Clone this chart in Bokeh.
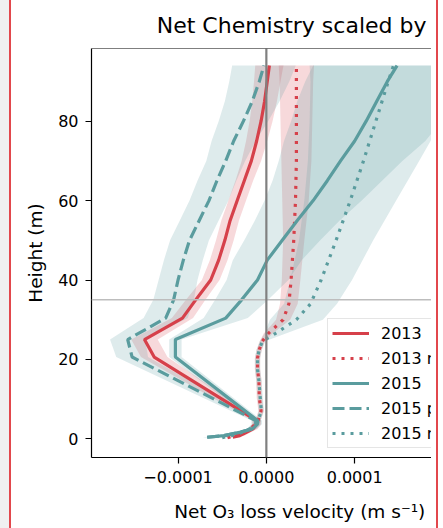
from bokeh.plotting import figure
from bokeh.layouts import row
from bokeh.models import (Range1d, FixedTicker, CustomJSTickFormatter, Span,
                          Legend, LegendItem, Spacer)
from bokeh.embed import file_html
from bokeh.resources import INLINE

# ---------------- data (m s^-1 and m) ----------------
h_model = [0.4, 0.8, 1.7, 2.5, 3.7, 4.6, 20.6, 25.0, 30.4, 35, 40, 45, 50, 55,
           60, 65, 70, 75, 80, 85, 90, 94]
v2013_model = [-3.8e-5, -3.0e-5, -2.2e-5, -1.5e-5, -1.1e-5, -1.1e-5, -1.27e-4,
               -1.38e-4, -9.5e-5, -8.0e-5, -6.3e-5, -5.4e-5, -4.7e-5, -4.1e-5,
               -3.3e-5, -2.5e-5, -1.7e-5, -1.1e-5, -6e-6, -2e-6, 1e-6, 3.4e-6]
e2013_model = [0.5e-5, 0.5e-5, 0.5e-5, 0.5e-5, 0.5e-5, 0.5e-5, 1.5e-5, 1.5e-5,
               1.2e-5, 1.1e-5, 1.0e-5, 1.0e-5, 1.0e-5, 1.0e-5, 1.0e-5, 1.0e-5,
               1.1e-5, 1.2e-5, 1.3e-5, 1.4e-5, 1.5e-5, 1.6e-5]
v2015_model = [-6.7e-5, -4.8e-5, -2.9e-5, -1.6e-5, -1.0e-5, -1.0e-5, -1.03e-4,
               -1.03e-4, -4.6e-5, -2.8e-5, -1.0e-5, 1e-6, 1.8e-5, 3.5e-5,
               5.3e-5, 6.9e-5, 8.4e-5, 1.0e-4, 1.13e-4, 1.25e-4, 1.37e-4, 1.48e-4]
e2015_model = [0.5e-5, 0.5e-5, 0.5e-5, 0.5e-5, 0.5e-5, 0.5e-5, 0.7e-5, 0.7e-5,
               2.5e-5, 3.0e-5, 3.5e-5, 3.9e-5, 4.3e-5, 4.8e-5, 5.5e-5, 6.2e-5,
               7.0e-5, 8.0e-5, 8.5e-5, 9.0e-5, 9.3e-5, 9.5e-5]
v2015_p = [-6.7e-5, -4.8e-5, -2.9e-5, -1.7e-5, -1.2e-5, -1.2e-5, -1.52e-4,
           -1.57e-4, -1.14e-4, -1.05e-4, -1.0e-4, -9.4e-5, -8.7e-5, -7.6e-5,
           -6.5e-5, -5.6e-5, -4.6e-5, -3.7e-5, -2.6e-5, -1.6e-5, -8e-6, -2.7e-6]
e2015_p = [0.5e-5, 0.5e-5, 0.5e-5, 0.5e-5, 0.5e-5, 0.5e-5, 1.8e-5, 2.0e-5,
           2.5e-5, 2.3e-5, 2.2e-5, 2.2e-5, 2.2e-5, 2.2e-5, 2.2e-5, 2.2e-5,
           2.2e-5, 2.5e-5, 2.8e-5, 3.1e-5, 3.4e-5, 3.6e-5]

h_obs = [0.3, 1.2, 2.5, 4.2, 7, 10.4, 14.6, 17.5, 20.4, 22.5, 24.6, 26.5, 30,
         34, 40, 50, 60, 70, 80, 90, 94]
v2013_obs = [-4.4e-5, -2.9e-5, -1.8e-5, -1.0e-5, -0.6e-5, -0.8e-5, -0.84e-5,
             -1.0e-5, -1.0e-5, -0.8e-5, -0.45e-5, 0.2e-5, 1.9e-5, 2.55e-5,
             2.8e-5, 3.1e-5, 3.3e-5, 3.4e-5, 3.4e-5, 3.4e-5, 3.4e-5]
e2013_obs = [0.3e-5, 0.3e-5, 0.3e-5, 0.3e-5, 0.3e-5, 0.3e-5, 0.3e-5, 0.3e-5,
             0.3e-5, 0.3e-5, 0.3e-5, 0.5e-5, 0.8e-5, 1.0e-5, 1.05e-5, 1.2e-5,
             1.5e-5, 1.7e-5, 1.8e-5, 1.9e-5, 2.0e-5]
v2015_obs = [-5.0e-5, -3.2e-5, -1.9e-5, -1.0e-5, -0.57e-5, -0.7e-5, -0.84e-5,
             -1.0e-5, -1.0e-5, -0.8e-5, -0.45e-5, 1.0e-5, 3.4e-5, 5.0e-5,
             6.2e-5, 7.9e-5, 9.5e-5, 1.10e-4, 1.24e-4, 1.38e-4, 1.44e-4]
e2015_obs = [0.3e-5, 0.3e-5, 0.3e-5, 0.3e-5, 0.3e-5, 0.3e-5, 0.3e-5, 0.3e-5,
             0.3e-5, 0.3e-5, 0.3e-5, 1.2e-5, 3.0e-5, 3.0e-5, 3.5e-5, 4.2e-5,
             5.2e-5, 6.3e-5, 7.5e-5, 8.8e-5, 9.5e-5]

labels = ["2013", "2013 m", "2015", "2015 p", "2015 m"]
x_ticks = [-0.0001, 0.0, 0.0001]
y_ticks = [0, 20, 40, 60, 80]
ref_height = 35
title_text = "Net Chemistry scaled by"
x_label = "Net O\u2083 loss velocity (m s\u207b\u00b9)"
y_label = "Height (m)"

RED = "#d6404a"
TEAL = "#5a9c9e"
FONT = "DejaVu Sans"
X0, X1 = -0.000198, 0.000187
Y0, Y1 = -4.7, 98.3

p = figure(width=420, height=528, output_backend="svg", toolbar_location=None,
           x_range=Range1d(X0, X1), y_range=Range1d(Y0, Y1),
           min_border_left=80, min_border_right=0, min_border_top=46,
           min_border_bottom=71)
p.grid.visible = False
p.outline_line_color = None
p.background_fill_color = "white"
p.border_fill_color = "white"

p.title.text = title_text
p.title.align = "right"
p.title.offset = 5
p.title.text_font = FONT
p.title.text_font_size = "22px"
p.title.text_font_style = "normal"
p.title.text_color = "black"
p.title.standoff = 21

for ax in (p.xaxis[0], p.yaxis[0]):
    ax.axis_line_color = "black"
    ax.axis_line_width = 1.2
    ax.major_tick_line_color = "black"
    ax.major_tick_line_width = 1.2
    ax.major_tick_out = 6
    ax.major_tick_in = 0
    ax.minor_tick_line_color = None
    ax.major_label_text_font = FONT
    ax.major_label_text_font_size = "16px"
    ax.major_label_text_color = "black"
    ax.axis_label_text_font = FONT
    ax.axis_label_text_font_size = "18.5px"
    ax.axis_label_text_font_style = "normal"
    ax.axis_label_text_color = "black"
    ax.major_label_standoff = 7

p.xaxis.ticker = FixedTicker(ticks=x_ticks)
p.xaxis.formatter = CustomJSTickFormatter(code="""
  if (Math.abs(tick) < 1e-12) return "0.0000";
  return (tick < 0 ? "\\u2212" : "") + Math.abs(tick).toFixed(4);
""")
p.yaxis.ticker = FixedTicker(ticks=y_ticks)
p.yaxis.axis_label = y_label
p.yaxis.axis_label_standoff = 9
# the original figure was wider and cropped: its x title sits right of centre
p.xaxis.axis_label = "\u00a0" * 13 + x_label
p.xaxis.axis_label_standoff = 15

# bands
def band(v, e, h, color):
    lo = [a - b for a, b in zip(v, e)]
    hi = [a + b for a, b in zip(v, e)]
    p.harea(x1=lo, x2=hi, y=h, fill_color=color, fill_alpha=0.2)

band(v2013_model, e2013_model, h_model, RED)
band(v2013_obs, e2013_obs, h_obs, RED)
band(v2015_model, e2015_model, h_model, TEAL)
band(v2015_p, e2015_p, h_model, TEAL)
band(v2015_obs, e2015_obs, h_obs, TEAL)

# reference lines
p.add_layout(Span(location=ref_height, dimension="width", line_color="#bdbdbd",
                  line_width=1.5))
p.add_layout(Span(location=0, dimension="height", line_color="#808080",
                  line_width=2.2))
p.add_layout(Span(location=Y1, dimension="width", line_color="black",
                  line_width=1.2))

LW = 3.2
r1 = p.line(v2013_model, h_model, line_color=RED, line_width=LW)
r2 = p.line(v2013_obs, h_obs, line_color=RED, line_width=LW, line_dash="3 6")
r3 = p.line(v2015_model, h_model, line_color=TEAL, line_width=LW)
r4 = p.line(v2015_p, h_model, line_color=TEAL, line_width=LW, line_dash="12 5")
r5 = p.line(v2015_obs, h_obs, line_color=TEAL, line_width=LW, line_dash="3 6")

legend = Legend(items=[LegendItem(label=l, renderers=[r]) for l, r in
                       zip(labels, [r1, r2, r3, r4, r5])],
                location=(236, 9), glyph_width=37, glyph_height=20,
                label_height=20, label_standoff=12, spacing=5, padding=4,
                margin=0, label_text_font=FONT, label_text_font_size="16px",
                label_text_color="black", border_line_color="#cccccc",
                border_line_width=1, background_fill_alpha=0.85)
p.add_layout(legend, "center")

# grey page strip and red frame lines of the original capture
strip = Spacer(width=9, height=528, styles={"background-color": "#f0f0f0"})
edge_l = Spacer(width=2, height=528, styles={"background-color": "#e2474c"})
gap_r = Spacer(width=5, height=528)
edge_r = Spacer(width=2, height=528, styles={"background-color": "#e2474c"})
layout = row(strip, edge_l, p, gap_r, edge_r, spacing=0)

open("out.html", "w").write(file_html(layout, INLINE))
